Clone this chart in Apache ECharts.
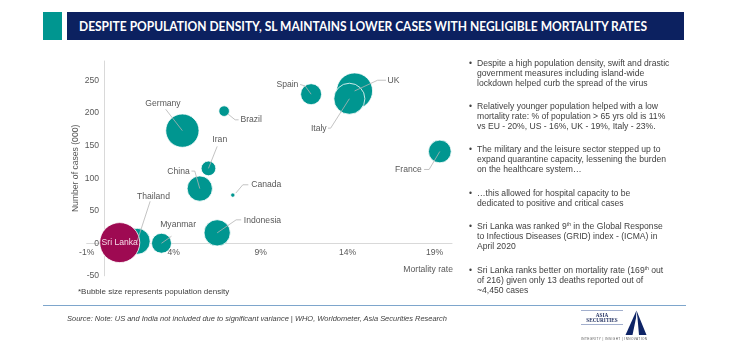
<!DOCTYPE html>
<html>
<head>
<meta charset="utf-8">
<script src="https://cdn.jsdelivr.net/npm/echarts@6/dist/echarts.min.js"></script>
<style>
  html,body{margin:0;padding:0;background:#fff;}
  body{width:750px;height:348px;position:relative;overflow:hidden;font-family:"Liberation Sans",Arial,sans-serif;}
  #chart{position:absolute;left:0;top:0;width:750px;height:348px;}
  .abs{position:absolute;white-space:nowrap;z-index:2;}
  #teal{left:43px;top:12px;width:19px;height:28px;background:#009690;}
  #bar{left:67px;top:12px;width:617px;height:28px;background:#0C2160;}
  #title{left:79px;top:12px;height:28px;line-height:29px;color:#fff;font-family:Lato,"Liberation Sans",sans-serif;font-weight:bold;font-size:13.5px;transform-origin:0 50%;}
  .para{left:470px;font-size:8.6px;line-height:10px;color:#404040;}
  .para .b{position:absolute;left:-1px;top:0;}
  .para .t{position:absolute;left:7px;top:0;}
  .para sup{font-size:5px;line-height:0;vertical-align:3px;}
  #foot{left:78px;top:287px;font-size:8px;line-height:10px;color:#404040;}
  #xname{left:403px;top:264px;width:50px;text-align:right;font-size:8.6px;line-height:10px;color:#595959;}
  #sep{left:43px;top:304.5px;width:643px;height:0;border-top:1.2px solid #7EA6CC;}
  #source{left:67px;top:314px;font-size:7.6px;line-height:10px;font-style:italic;color:#404040;transform-origin:0 50%;}
  #logo{left:578px;top:306px;width:74px;height:38px;}
</style>
</head>
<body>
<div id="chart"></div>
<div class="abs" id="teal"></div>
<div class="abs" id="bar"></div>
<div class="abs" id="title">DESPITE POPULATION DENSITY, SL MAINTAINS LOWER CASES WITH NEGLIGIBLE MORTALITY RATES</div>

<div class="abs para" style="top:57.7px"><span class="b">•</span><span class="t">Despite a high population density, swift and drastic<br>government measures including island-wide<br>lockdown helped curb the spread of the virus</span></div>
<div class="abs para" style="top:101px"><span class="b">•</span><span class="t">Relatively younger population helped with a low<br>mortality rate: % of population &gt; 65 yrs old is 11%<br>vs EU - 20%, US - 16%, UK - 19%, Italy - 23%.</span></div>
<div class="abs para" style="top:144.3px"><span class="b">•</span><span class="t">The military and the leisure sector stepped up to<br>expand quarantine capacity, lessening the burden<br>on the healthcare system…</span></div>
<div class="abs para" style="top:188.3px"><span class="b">•</span><span class="t">…this allowed for hospital capacity to be<br>dedicated to positive and critical cases</span></div>
<div class="abs para" style="top:221px"><span class="b">•</span><span class="t">Sri Lanka was ranked 9<sup>th</sup> in the Global Response<br>to Infectious Diseases (GRID) index - (ICMA) in<br>April 2020</span></div>
<div class="abs para" style="top:265px"><span class="b">•</span><span class="t">Sri Lanka ranks better on mortality rate (169<sup>th</sup> out<br>of 216) given only 13 deaths reported out of<br>~4,450 cases</span></div>

<div class="abs" id="xname">Mortality rate</div>
<div class="abs" id="foot">*Bubble size represents population density</div>
<div class="abs" id="sep"></div>
<div class="abs" id="source">Source: Note: US and India not included due to significant variance | WHO, Worldometer, Asia Securities Research</div>
<svg class="abs" id="logo" viewBox="578 306 74 38" xmlns="http://www.w3.org/2000/svg">
  <line x1="581" y1="310.5" x2="623" y2="310.5" stroke="#8A9BC0" stroke-width="0.8"/>
  <text x="602" y="316.5" text-anchor="middle" font-family="Liberation Serif,serif" font-weight="bold" font-size="5.2" fill="#1B2A5C">ASIA</text>
  <text x="602" y="322" text-anchor="middle" font-family="Liberation Serif,serif" font-weight="bold" font-size="5.2" fill="#1B2A5C">SECURITIES</text>
  <line x1="581" y1="324.5" x2="623" y2="324.5" stroke="#8A9BC0" stroke-width="0.8"/>
  <polygon points="636.5,310.5 625.5,335 632.5,335 636,318" fill="#0E2466"/>
  <polygon points="636.5,310.5 637.5,318 639,335 646.5,335" fill="#0E2466"/>
  <text x="581" y="340" font-family="Liberation Sans,sans-serif" font-size="3.1" fill="#555" textLength="66">INTEGRITY | INSIGHT | INNOVATION</text>
</svg>

<script>
// ---------------- data ----------------
const countries      = ['Thailand','Myanmar','Indonesia','Canada','China','Iran','Brazil','Germany','Spain','UK','Italy','France','Sri Lanka'];
const mortalityRate  = [1.9, 3.3, 6.5, 7.4, 5.5, 6.0, 6.9, 4.5, 11.9, 14.4, 14.1, 19.3, 0.9];   // %
const casesThousands = [3, 0, 16, 74, 84, 115, 203, 173, 229, 234, 222, 141, 1];             // 000
const popDensity     = [144, 85, 147, 4, 136, 46, 24, 236, 94, 276, 205, 110, 341];           // people / km2
const xTicks = { min: -1, max: 20, interval: 5 };
const yTicks = { min: -50, max: 280, interval: 50 };

// ---------------- styles (label placement relative to bubble, in px) ----------------
const labelStyle = {
  'Thailand':  {dx: 16.3, dy: -44.7, align: 'center', line: [[13, -40], [0, 0]]},
  'Myanmar':   {dx: 16.6, dy: -18.7, align: 'center', line: [[10, -7], [0, 0]]},
  'Indonesia': {dx: 26.7, dy: -12.7, align: 'left',   line: [[24, -13], [19, -13], [0, 0]]},
  'Canada':    {dx: 18.4, dy: -10.3, align: 'left',   line: [[3, -2], [10, -10.3], [15.5, -10.3]]},
  'China':     {dx: -10,  dy: -16.6, align: 'right',  line: [[-8.3, -17.5], [-5, -17.5], [0, 0]]},
  'Iran':      {dx: 11.3, dy: -28.3, align: 'center', line: [[8.7, -22], [0, 0]]},
  'Brazil':    {dx: 16.3, dy: 8.7,   align: 'left',   line: [[4, 3], [11, 8.7], [14.5, 8.7]]},
  'Germany':   {dx: -19.4,dy: -27.4, align: 'center', line: [[-16.7, -21.4], [0, 0]]},
  'Spain':     {dx: -12.7,dy: -9.7,  align: 'right',  line: [[-11, -9.7], [-6, -8.3], [0, 0]]},
  'UK':        {dx: 33,   dy: -10,   align: 'left',   line: [[31.4, -10.7], [23, -10.7], [0, 0]]},
  'Italy':     {dx: -22.7,dy: 30,    align: 'right',  line: [[-21.4, 29.4], [-18.7, 29.4], [0, 0]]},
  'France':    {dx: -18,  dy: 18,    align: 'right',  line: [[-15.7, 18], [-10.7, 18], [0, 0]]},
  'Sri Lanka': {dx: 0,    dy: 0,     align: 'center', line: null, color: '#F6DCE8'}
};
const TEAL = '#009690', CRIMSON = '#9E0A52';
const LABEL_GRAY = '#595959';

function radius(density) { return 20 * Math.sqrt(density / 341); }

const data = countries.map((c, i) => [mortalityRate[i], casesThousands[i], popDensity[i], i]);

const chart = echarts.init(document.getElementById('chart'), null, {renderer: 'canvas'});
const axisFont = {color: LABEL_GRAY, fontSize: 8.6, fontFamily: 'Liberation Sans'};
chart.setOption({
  animation: false,
  grid: {left: 86.7, right: 298, top: 61, bottom: 72.2, outerBoundsMode: 'none', containLabel: false},
  xAxis: {
    type: 'value', min: xTicks.min, max: xTicks.max, interval: xTicks.interval,
    position: 'bottom', offset: 0,
    axisLine: {show: true, onZero: false, lineStyle: {color: '#D9D9D9', width: 1}},
    axisTick: {show: false}, splitLine: {show: false},
    axisLabel: Object.assign({margin: 5, showMaxLabel: false, formatter: v => v + '%'}, axisFont)
  },
  yAxis: {
    type: 'value', min: yTicks.min, max: yTicks.max, interval: yTicks.interval,
    position: 'left', offset: 0,
    name: 'Number of cases (000)', nameLocation: 'middle', nameGap: 24,
    nameTextStyle: axisFont,
    axisLine: {show: true, onZero: false, lineStyle: {color: '#D9D9D9', width: 1}},
    axisTick: {show: false}, splitLine: {show: false},
    axisLabel: Object.assign({margin: 5, showMaxLabel: false}, axisFont)
  },
  series: [
    {
      type: 'custom', name: 'bubbles', clip: false, z: 2,
      encode: {x: 0, y: 1},
      data: data,
      renderItem: function (params, api) {
        const p = api.coord([api.value(0), api.value(1)]);
        const name = countries[api.value(3)];
        return {
          type: 'circle',
          shape: {cx: p[0], cy: p[1], r: radius(api.value(2))},
          style: {fill: name === 'Sri Lanka' ? CRIMSON : TEAL, stroke: '#ffffff', lineWidth: 0.8}
        };
      }
    },
    {
      type: 'custom', name: 'labels', clip: false, z: 3,
      encode: {x: 0, y: 1},
      data: data,
      renderItem: function (params, api) {
        const p = api.coord([api.value(0), api.value(1)]);
        const name = countries[api.value(3)];
        const s = labelStyle[name];
        const children = [];
        if (s.line) {
          children.push({
            type: 'polyline',
            shape: {points: s.line.map(q => [p[0] + q[0], p[1] + q[1]])},
            style: {stroke: '#B4B4B4', lineWidth: 0.8, fill: null}
          });
        }
        children.push({
          type: 'text',
          x: p[0] + s.dx, y: p[1] + s.dy,
          style: {
            text: name, fill: s.color || LABEL_GRAY,
            font: '8.6px "Liberation Sans", Arial, sans-serif',
            align: s.align, verticalAlign: 'middle',
            textAlign: s.align, textVerticalAlign: 'middle'
          }
        });
        return {type: 'group', children: children};
      }
    }
  ]
});

// Place the axes so they cross at the origin (0%, 0), using the library's own scales.
(function () {
  const origin = chart.convertToPixel({gridIndex: 0}, [0, 0]);
  const corner = chart.convertToPixel({gridIndex: 0}, [xTicks.min, yTicks.min]);
  chart.setOption({
    xAxis: {offset: -(corner[1] - origin[1])},
    yAxis: {offset: -(origin[0] - corner[0])}
  });
})();

// fit condensed title width (Calibri-like) by horizontal scaling
(function () {
  const t = document.getElementById('title');
  const w = t.getBoundingClientRect().width;
  t.style.transform = 'scaleX(' + (568 / w) + ')';
  const s = document.getElementById('source');
  const ws = s.getBoundingClientRect().width;
  s.style.transform = 'scaleX(' + (380 / ws) + ')';
})();
</script>
</body>
</html>
